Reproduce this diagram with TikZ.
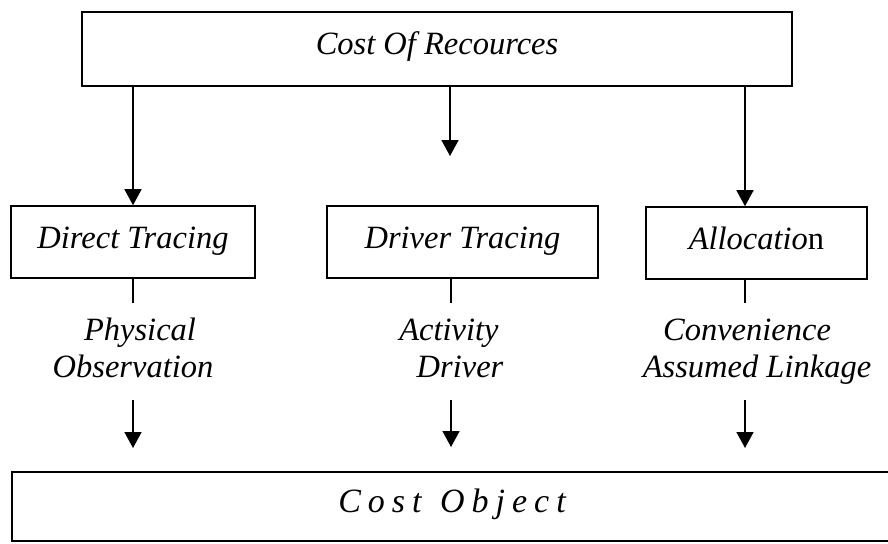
\documentclass[tikz,border=0pt]{standalone}
\usepackage{fontspec}
\setmainfont{Liberation Serif}
\usetikzlibrary{arrows.meta}
\newcommand{\lsp}{\kern7pt }
\begin{document}
\begin{tikzpicture}[x=1pt,y=-1pt,
  box/.style={draw, line width=1.6pt, inner sep=0pt, font=\fontsize{32.5}{37}\selectfont\itshape, text height=22pt, text depth=10pt},
  lbl/.style={font=\fontsize{32.5}{37}\selectfont\itshape, align=center, inner sep=0pt, anchor=base},
  arr/.style={line width=1.6pt, -{Triangle[length=16pt,width=17pt]}},
  tickln/.style={line width=1.6pt}]
\useasboundingbox (0,0) rectangle (888,543);
\clip (0,0) rectangle (888,543);
\fill[white] (0,0) rectangle (888,543);

\node[box, minimum width=710pt, minimum height=74pt] (res) at (437,49) {Cost Of Recources};
\node[box, minimum width=244pt, minimum height=72pt] (dir) at (133,242) {Direct Tracing};
\node[box, minimum width=271pt, minimum height=72pt] (drv) at (462.5,242) {Driver Tracing};
\node[box, minimum width=221pt, minimum height=72pt] (alc) at (756.5,243) {\textit{Allocatio}\textup{n}};
\node[box, font=\fontsize{34}{40}\selectfont\itshape, minimum width=880pt, minimum height=69pt] (obj) at (452,506.5) {C\lsp o\lsp s\lsp t\lsp{} \kern3pt O\lsp b\lsp j\lsp e\lsp c\lsp t};

% arrows from top box
\coordinate (ra) at (745,86);
\coordinate (mt) at (450,156);
\draw[arr] (res.south -| dir) -- (dir.north);
\draw[arr] (res.south -| mt) -- (mt);
\draw[arr] (res.south -| ra) -- (ra |- alc.north);

% ticks
\coordinate (t1) at (133,303);
\coordinate (t2) at (451,303);
\coordinate (t3) at (745,303);
\draw[tickln] (dir.south -| t1) -- (t1);
\draw[tickln] (drv.south -| t2) -- (t2);
\draw[tickln] (alc.south -| t3) -- (t3);

% labels (base anchor = baseline of the last line)
\node[lbl] (l1) at (133,377) {\hspace*{14pt}Physical\\Observation};
\node[lbl] (l2) at (449,377) {Activity\\\hspace*{22pt}Driver};
\node[lbl] (l3) at (757,377) {Convenience\hspace*{20pt}\\Assumed Linkage};

% lower arrows
\coordinate (a1) at (133,400); \coordinate (b1) at (133,448);
\coordinate (a2) at (451,400); \coordinate (b2) at (451,447);
\coordinate (a3) at (745,400); \coordinate (b3) at (745,448);
\draw[arr] (a1) -- (b1);
\draw[arr] (a2) -- (b2);
\draw[arr] (a3) -- (b3);
\end{tikzpicture}
\end{document}
